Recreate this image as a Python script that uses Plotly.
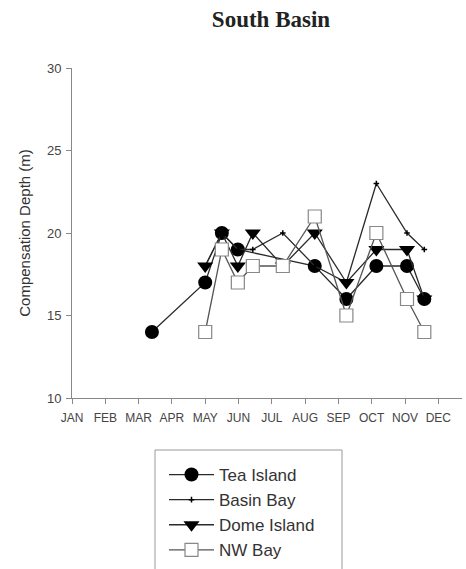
import plotly.graph_objects as go

month_labels = ["JAN", "FEB", "MAR", "APR", "MAY", "JUN", "JUL", "AUG", "SEP", "OCT", "NOV", "DEC"]
month_ticks = list(range(12))

# sampling positions in months after Jan 1
tea_x = [2.4, 4.0, 4.5, 4.98, 7.29, 8.24, 9.14, 10.06, 10.58]
tea_y = [14, 17, 20, 19, 18, 16, 18, 18, 16]

basin_x = [4.0, 4.5, 4.98, 5.43, 6.33, 7.29, 8.24, 9.14, 10.06, 10.58]
basin_y = [18, 20, 19, 19, 20, 18, 17, 23, 20, 19]

dome_x = [4.0, 4.5, 4.98, 5.43, 6.33, 7.29, 8.24, 9.14, 10.06, 10.58]
dome_y = [18, 20, 18, 20, 18, 20, 17, 19, 19, 16]

nw_x = [4.0, 4.5, 4.98, 5.43, 6.33, 7.29, 8.24, 9.14, 10.06, 10.58]
nw_y = [14, 19, 17, 18, 18, 21, 15, 20, 16, 14]

W, H = 466, 569
L, R, T, B = 72, 4, 68, 171
PW, PH = W - L - R, H - T - B


def px_to_paper(px, py):
    return (px - L) / PW, (H - B - py) / PH


line_col = "#2a2a2a"
fig = go.Figure()
fig.add_trace(go.Scatter(x=tea_x, y=tea_y, mode="lines+markers", name="Tea Island",
                         line=dict(color=line_col, width=1.3),
                         marker=dict(symbol="circle", size=14, color="black")))
fig.add_trace(go.Scatter(x=basin_x, y=basin_y, mode="lines+markers", name="Basin Bay",
                         line=dict(color=line_col, width=1.3),
                         marker=dict(symbol="cross-thin", size=4, color="black",
                                     line=dict(color="black", width=1.5))))
fig.add_trace(go.Scatter(x=dome_x, y=dome_y, mode="lines+markers", name="Dome Island",
                         line=dict(color=line_col, width=1.3),
                         marker=dict(symbol="triangle-down", size=14, color="black")))
fig.add_trace(go.Scatter(x=nw_x, y=nw_y, mode="lines+markers", name="NW Bay",
                         line=dict(color="#555555", width=1.3),
                         marker=dict(symbol="square", size=13, color="white",
                                     line=dict(color="#888888", width=1.2))))

axis_col = "#888888"
lx, ly = px_to_paper(164, 457)
bx0, by0 = px_to_paper(155, 450)
bx1, by1 = px_to_paper(342, 575)
fig.update_layout(
    width=W, height=H,
    margin=dict(l=L, r=R, t=T, b=B, autoexpand=False),
    paper_bgcolor="white", plot_bgcolor="white",
    title=dict(text="<b>South Basin</b>", x=271 / W, xanchor="center", y=1 - 19 / H,
               yanchor="middle", font=dict(family="Liberation Serif", size=23, color="#222222")),
    font=dict(family="Liberation Sans", color="#444444"),
    xaxis=dict(range=[0, PW / 33.3], tickmode="array", tickvals=month_ticks, ticktext=month_labels,
               showgrid=False, zeroline=False, showline=True, linecolor=axis_col, linewidth=1,
               ticks="outside", ticklen=5, tickcolor=axis_col, tickfont=dict(size=12),
               ticklabelstandoff=4),
    yaxis=dict(range=[10, 30], tickvals=[10, 15, 20, 25, 30], showgrid=False, zeroline=False,
               showline=True, linecolor=axis_col, linewidth=1, ticks="outside", ticklen=5,
               tickcolor=axis_col, tickfont=dict(size=13), ticklabelstandoff=2,
               title=dict(text="Compensation Depth (m)", font=dict(size=15, color="#333333"), standoff=12)),
    legend=dict(x=lx, y=ly, xanchor="left", yanchor="top",
                borderwidth=0, bgcolor="rgba(0,0,0,0)",
                font=dict(size=17, color="#333333"), itemwidth=45, tracegroupgap=0),
    shapes=[dict(type="rect", xref="paper", yref="paper", x0=bx0, y0=by0, x1=bx1, y1=by1,
                 line=dict(color="#999999", width=1), fillcolor="rgba(0,0,0,0)", layer="below")],
    showlegend=True,
)

fig.write_html("out.html")
